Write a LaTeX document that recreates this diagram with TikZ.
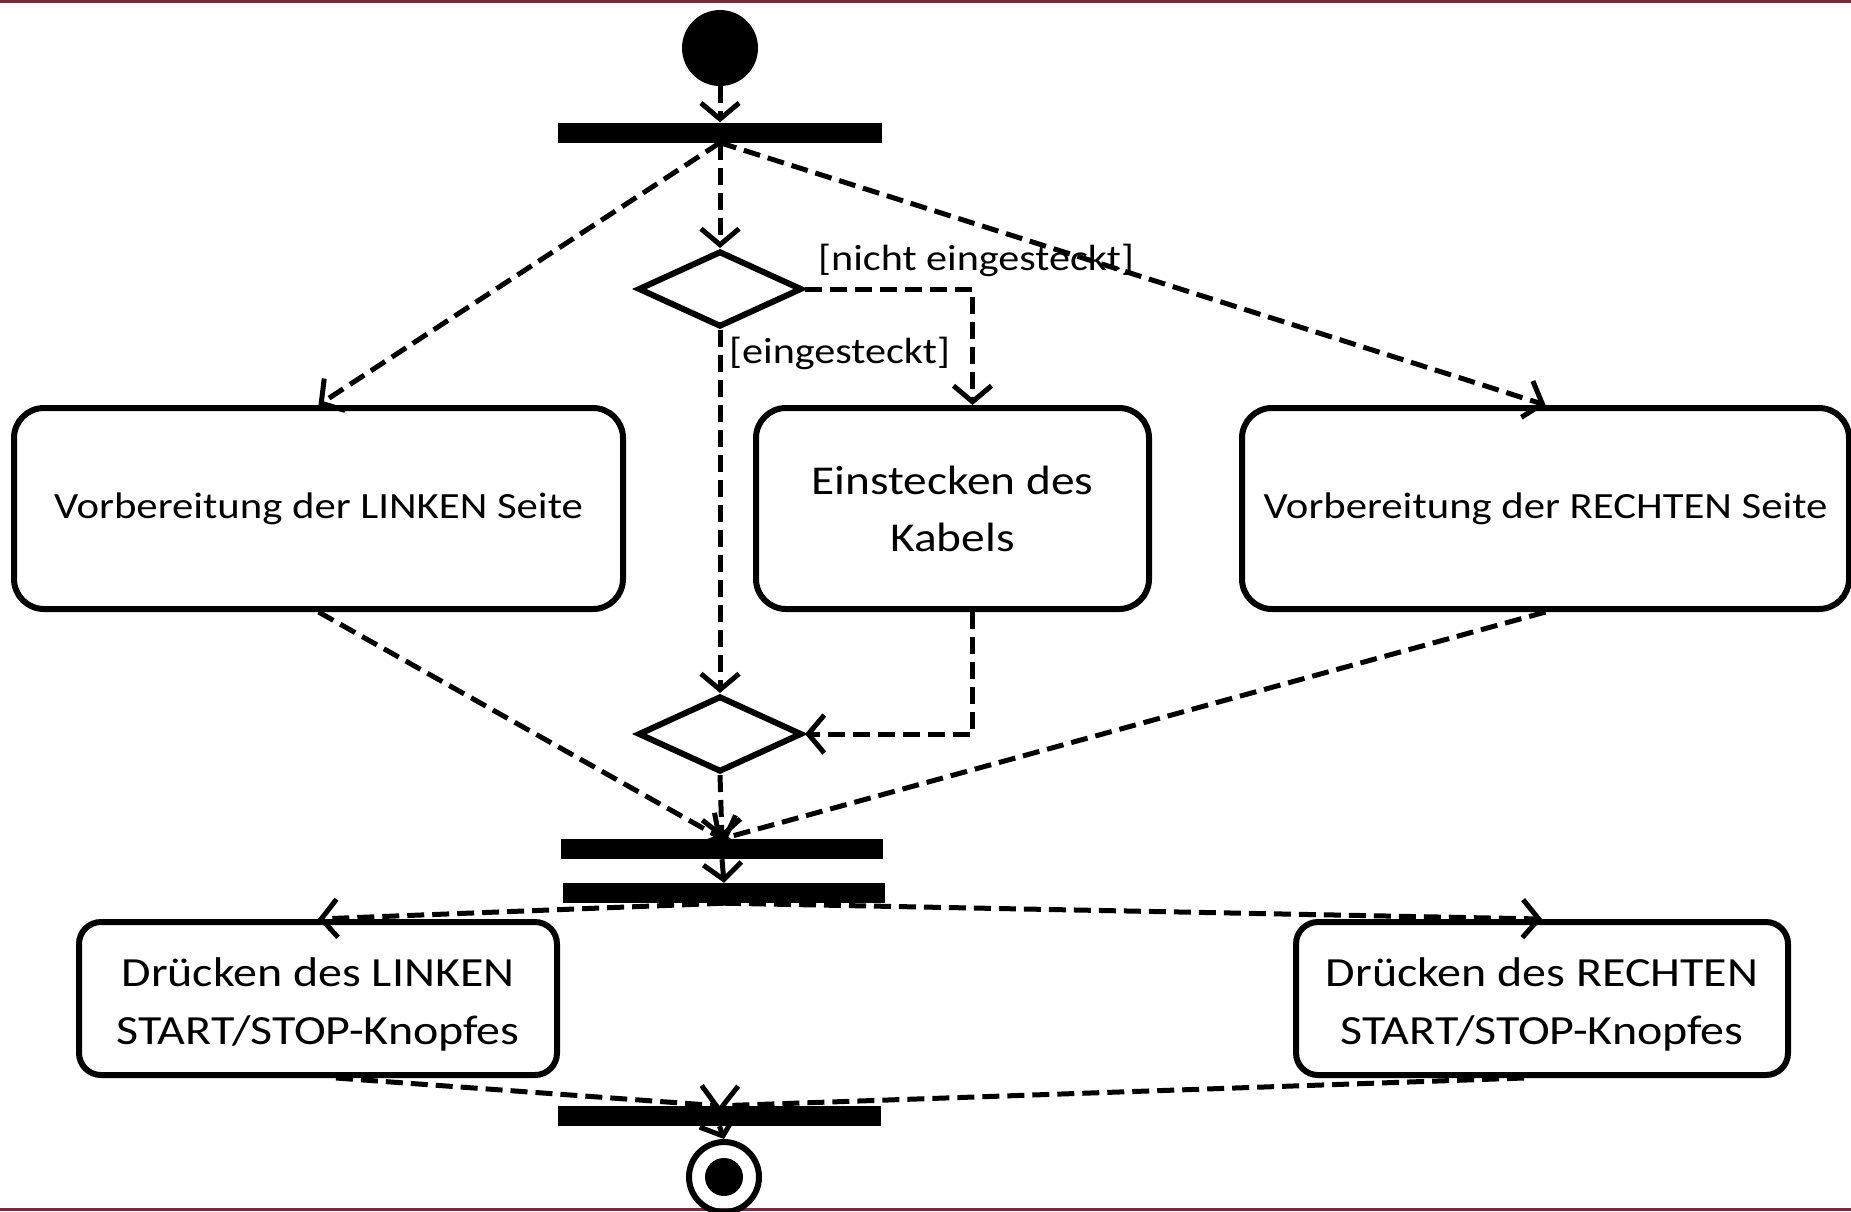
\documentclass[tikz,border=0pt]{standalone}
\usepackage{fontspec}
\setmainfont{Carlito}[FakeStretch=1.155]
\usetikzlibrary{arrows.meta,shapes.geometric}
\definecolor{rulered}{HTML}{7F2A3C}
\begin{document}
\begin{tikzpicture}[x=1pt,y=-1pt,
  conn/.style={line width=5pt,dash pattern=on 17pt off 8pt,-{Straight Barb[length=16pt,width=38pt,line width=5pt]}},
  actbox/.style={draw,line width=6pt,rounded corners=30pt,align=center,inner sep=0pt},
  bar/.style={fill=black,inner sep=0pt,minimum height=20pt},
  decision/.style={draw,diamond,line width=6pt,minimum width=164pt,minimum height=76pt,inner sep=0pt,aspect=2.15},
  guard/.style={font=\fontsize{36.5}{42}\selectfont,inner sep=0pt}]
\useasboundingbox (0,0) rectangle (1851,1211);
\fill[rulered] (0,0) rectangle (1851,3);
\fill[rulered] (0,1208) rectangle (1851,1211);

\node[circle,fill=black,minimum size=76pt,inner sep=0pt] (start) at (720,48) {};
\node[bar,minimum width=324pt] (fork1) at (720,132.5) {};
\node[decision] (dec1) at (720,289) {};
\node[actbox,minimum width=609pt,minimum height=201pt,font=\fontsize{37}{48}\selectfont] (lbox) at (318.5,508.5) {Vorbereitung der LINKEN Seite};
\node[actbox,minimum width=393pt,minimum height=201pt,font=\fontsize{41}{57}\selectfont] (mbox) at (952.5,508.5) {Einstecken des\\Kabels};
\node[actbox,minimum width=607pt,minimum height=201pt,font=\fontsize{37}{48}\selectfont] (rbox) at (1545.5,508.5) {Vorbereitung der RECHTEN Seite};
\node[decision] (dec2) at (720,734) {};
\node[bar,minimum width=322pt] (join1) at (722,849) {};
\node[bar,minimum width=322pt] (fork2) at (724,893) {};
\node[actbox,rounded corners=22pt,minimum width=478pt,minimum height=153pt] (blbox) at (318,998.5) {};
\node[font=\fontsize{41.5}{58}\selectfont,align=center,inner sep=0pt] (bltext) at ([yshift=-6pt]blbox.center) {Drücken des LINKEN\\START/STOP-Knopfes};
\node[actbox,rounded corners=22pt,minimum width=492pt,minimum height=153pt] (brbox) at (1542,998.5) {};
\node[font=\fontsize{41.5}{58}\selectfont,align=center,inner sep=0pt] (brtext) at ([yshift=-6pt]brbox.center) {Drücken des RECHTEN\\START/STOP-Knopfes};
\node[bar,minimum width=323pt] (join2) at (719.5,1116) {};
\node[circle,draw,line width=6pt,minimum size=70pt,inner sep=0pt] (final) at (724,1177) {};
\fill (final.center) circle (19pt);

\node[guard,anchor=west] (g1) at (818,260) {[nicht eingesteckt]};
\node[guard,anchor=west] (g2) at (729,353) {[eingesteckt]};

\draw[conn] (start.south) -- (fork1.north);
\draw[conn] (fork1.south) -- (lbox.north);
\draw[conn] (fork1.south) -- (dec1.north);
\draw[conn] (fork1.south) -- (rbox.north);
\draw[conn] (dec1.east) -| ([xshift=20pt]mbox.north);
\draw[conn] (dec1.south) -- (dec2.north);
\draw[conn] ([xshift=20pt]mbox.south) |- (dec2.east);
\draw[conn] (dec2.south) -- (join1.north);
\draw[conn] (lbox.south) -- (join1.north);
\draw[conn] (rbox.south) -- (join1.north);
\draw[conn] (join1.south) -- (fork2.north);
\draw[conn] (fork2.south) -- (blbox.north);
\draw[conn] (fork2.south) -- (brbox.north);
\draw[conn] ([xshift=18pt]blbox.south) -- (join2.north);
\draw[conn] ([xshift=-18pt]brbox.south) -- (join2.north);
\draw[conn] (join2.south) -- (final.north);
\end{tikzpicture}
\end{document}
